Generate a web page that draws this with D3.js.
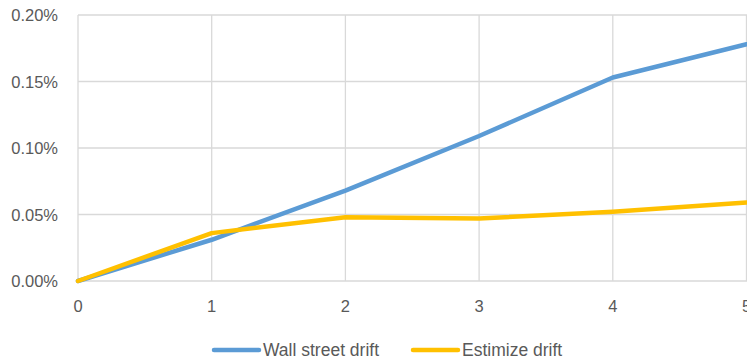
<!DOCTYPE html>
<html><head><meta charset="utf-8">
<script src="https://cdn.jsdelivr.net/npm/d3@7"></script>
<style>body{margin:0;background:#fff;}svg{display:block;}</style>
</head><body>
<svg id="c" width="747" height="358"></svg>
<script>
const xValues = [0, 1, 2, 3, 4, 5];
const wallStreet = [0, 0.031, 0.068, 0.109, 0.153, 0.178];
const estimize = [0, 0.036, 0.048, 0.047, 0.052, 0.059];
const yTicks = [0, 0.05, 0.10, 0.15, 0.20];
const seriesNames = ["Wall street drift", "Estimize drift"];
const colors = ["#5B9BD5", "#FFC000"];

const svg = d3.select("#c");
const x = d3.scaleLinear().domain([0, 5]).range([78, 746.5]);
const y = d3.scaleLinear().domain([0, 0.20]).range([281, 15]);
const font = "'Liberation Sans', Arial, sans-serif";

// gridlines
svg.append("g").selectAll("line").data(yTicks).join("line")
  .attr("x1", x(0)).attr("x2", 747).attr("y1", d => y(d)).attr("y2", d => y(d))
  .attr("stroke", "#D9D9D9").attr("stroke-width", 1.3);
svg.append("g").selectAll("line").data(xValues).join("line")
  .attr("x1", d => x(d)).attr("x2", d => x(d)).attr("y1", y(0.20)).attr("y2", y(0))
  .attr("stroke", "#D9D9D9").attr("stroke-width", 1.3);

// y labels
svg.append("g").selectAll("text").data(yTicks).join("text")
  .attr("x", 58).attr("y", d => y(d) + 6)
  .attr("text-anchor", "end").attr("font-family", font).attr("font-size", 16.5)
  .attr("fill", "#595959").text(d => d.toFixed(2) + "%");

// x labels
svg.append("g").selectAll("text").data(xValues).join("text")
  .attr("x", d => x(d)).attr("y", 312)
  .attr("text-anchor", "middle").attr("font-family", font).attr("font-size", 16.5)
  .attr("fill", "#595959").text(d => d);

const line = d3.line().x((d, i) => x(xValues[i])).y(d => y(d));
[wallStreet, estimize].forEach((s, i) => {
  svg.append("path").datum(s).attr("d", line)
    .attr("fill", "none").attr("stroke", colors[i]).attr("stroke-width", 4.5)
    .attr("stroke-linejoin", "round").attr("stroke-linecap", "round");
});

// legend
const legX = [214, 413];
seriesNames.forEach((n, i) => {
  svg.append("line").attr("x1", legX[i]).attr("x2", legX[i] + 45)
    .attr("y1", 350).attr("y2", 350).attr("stroke", colors[i])
    .attr("stroke-width", 4.5).attr("stroke-linecap", "round");
  svg.append("text").attr("x", legX[i] + 49).attr("y", 355.5)
    .attr("font-family", font).attr("font-size", 17.5).attr("fill", "#595959").text(n);
});
</script>
</body></html>
